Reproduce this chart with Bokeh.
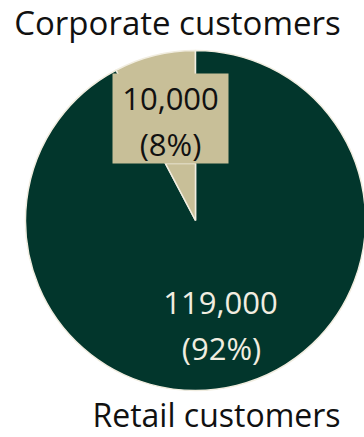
import math
from bokeh.plotting import figure
from bokeh.models import Range1d, ColumnDataSource
from bokeh.core.properties import value
from bokeh.embed import file_html
from bokeh.resources import INLINE

categories = ["Corporate customers", "Retail customers"]
values = [10000, 119000]
value_labels = ["10,000", "119,000"]
pct_labels = ["(8%)", "(92%)"]

W, H = 364, 437
GREEN = "#02362c"
TAN = "#c8bf98"
CREAM = "#f1ede0"
FONT = "Open Sans"

p = figure(width=W, height=H, output_backend="svg", toolbar_location=None,
           x_range=Range1d(0, W), y_range=Range1d(0, H), min_border=0)
p.axis.visible = False
p.grid.visible = False
p.outline_line_color = None
p.background_fill_color = "white"
p.border_fill_color = "white"

cx, cy, r = 195, H - 220, 170
total = sum(values)
starts, ends = [], []
a = math.pi / 2
for v in values:
    starts.append(a)
    a += 2 * math.pi * v / total
    ends.append(a)

src = ColumnDataSource(dict(start=starts, end=ends, color=[TAN, GREEN], cat=categories))
p.wedge(x=cx, y=cy, radius=r, start_angle="start", end_angle="end",
        fill_color="color", line_color=CREAM, line_width=1.5, source=src)

# callout for the small slice
bx0, bx1 = 112, 228
by0, by1 = H - 163, H - 73
p.patch(x=[165, cx, cx], y=[by0, by0, cy], fill_color=TAN, line_color=CREAM, line_width=1.5)
p.quad(left=bx0, right=bx1, bottom=by0, top=by1, fill_color=TAN, line_color=None)

LBL = "31px"
p.text(x=[(bx0 + bx1) / 2], y=[H - 98], text=[value_labels[0]], text_font=value(FONT),
       text_font_size=LBL, text_align="center", text_baseline="middle", text_color="#111111")
p.text(x=[(bx0 + bx1) / 2], y=[H - 143], text=[pct_labels[0]], text_font=value(FONT),
       text_font_size=LBL, text_align="center", text_baseline="middle", text_color="#111111")

p.text(x=[220], y=[H - 302], text=[value_labels[1]], text_font=value(FONT),
       text_font_size=LBL, text_align="center", text_baseline="middle", text_color=CREAM)
p.text(x=[221], y=[H - 347], text=[pct_labels[1]], text_font=value(FONT),
       text_font_size=LBL, text_align="center", text_baseline="middle", text_color=CREAM)

p.text(x=[177], y=[H - 22], text=[categories[0]], text_font=value(FONT),
       text_font_size="33px", text_align="center", text_baseline="middle", text_color="#111111")
p.text(x=[216], y=[H - 414], text=[categories[1]], text_font=value(FONT),
       text_font_size="32px", text_align="center", text_baseline="middle", text_color="#111111")

open("out.html", "w").write(file_html(p, INLINE))
